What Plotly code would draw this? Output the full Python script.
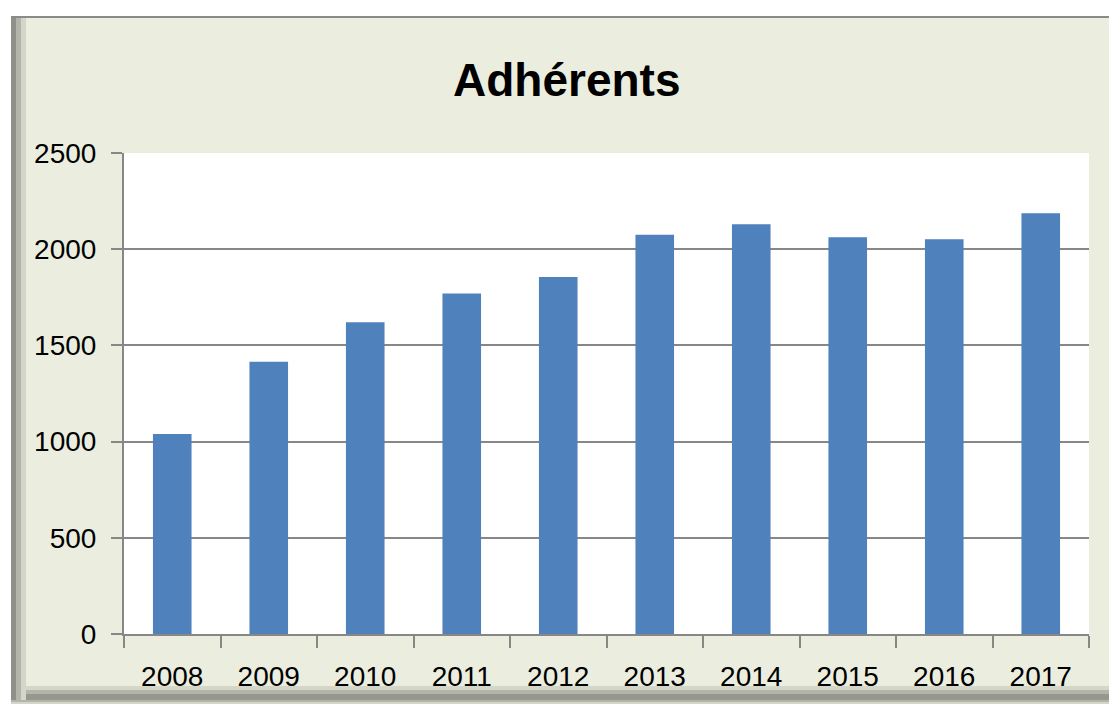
import plotly.graph_objects as go

years = ["2008", "2009", "2010", "2011", "2012", "2013", "2014", "2015", "2016", "2017"]
adherents = [1040, 1415, 1620, 1770, 1855, 2075, 2130, 2062, 2052, 2187]
y_ticks = [0, 500, 1000, 1500, 2000, 2500]

W, H = 1109, 711
L, R, T, B = 124, 1089, 153, 634


def px(x):
    return (x - L) / (R - L)


def py(y):
    return (B - y) / (B - T)


def rect(x0, y0, x1, y1, color):
    return dict(type="rect", xref="paper", yref="paper", layer="below",
                x0=px(x0), x1=px(x1), y0=py(y1), y1=py(y0),
                fillcolor=color, line=dict(width=0))


bg = "#EBEEDF"
shapes = [
    # bottom shadow
    rect(11, 686, 1130, 704, "#d4d6c8"),
    rect(11, 690, 1130, 702, "#b3b5aa"),
    rect(11, 694, 1130, 700, "#96978f"),
    # left shadow
    rect(11, 16, 26, 700, "#d4d6c8"),
    rect(11, 16, 21, 700, "#b3b5aa"),
    rect(11, 16, 16, 700, "#8f908a"),
    # background
    rect(26, 18, 1130, 686, bg),
    # top border
    rect(11, 16, 1130, 18, "#8a8a8a"),
    # plot area
    rect(L, T, R, B, "#ffffff"),
]

fig = go.Figure(go.Bar(x=years, y=adherents, marker_color="#4F81BD",
                       marker_line_width=0, width=0.4))

fig.update_layout(
    width=W, height=H,
    margin=dict(l=L, r=W - R, t=T, b=H - B, pad=0),
    paper_bgcolor="#ffffff",
    plot_bgcolor="rgba(0,0,0,0)",
    font=dict(family="Liberation Sans", size=28, color="#000000"),
    showlegend=False,
    shapes=shapes,
    bargap=0.6,
    annotations=[dict(text="<b>Adhérents</b>", xref="paper", yref="paper",
                      x=px(566), y=py(80), xanchor="center", yanchor="middle",
                      showarrow=False, font=dict(size=46, color="#000000",
                                                 family="Liberation Sans"))],
)

fig.update_xaxes(
    type="category", tickson="boundaries", ticks="outside", ticklen=12,
    tickwidth=2, tickcolor="#878787", showline=True, linecolor="#878787",
    linewidth=2, showgrid=False, ticklabelstandoff=16,
    tickfont=dict(size=28, color="#000000"),
)
fig.update_yaxes(
    range=[0, 2500], tickvals=y_ticks, ticktext=[str(v) for v in y_ticks],
    ticks="outside", ticklen=11, tickwidth=2, tickcolor="#878787",
    showline=True, linecolor="#878787", linewidth=2,
    showgrid=True, gridcolor="#878787", gridwidth=2, zeroline=False,
    ticklabelstandoff=9, tickfont=dict(size=28, color="#000000"),
)

fig.write_html(
    "out.html",
    config={"displayModeBar": False},
    post_script="document.body.style.margin='0';document.body.style.overflow='hidden';",
)
